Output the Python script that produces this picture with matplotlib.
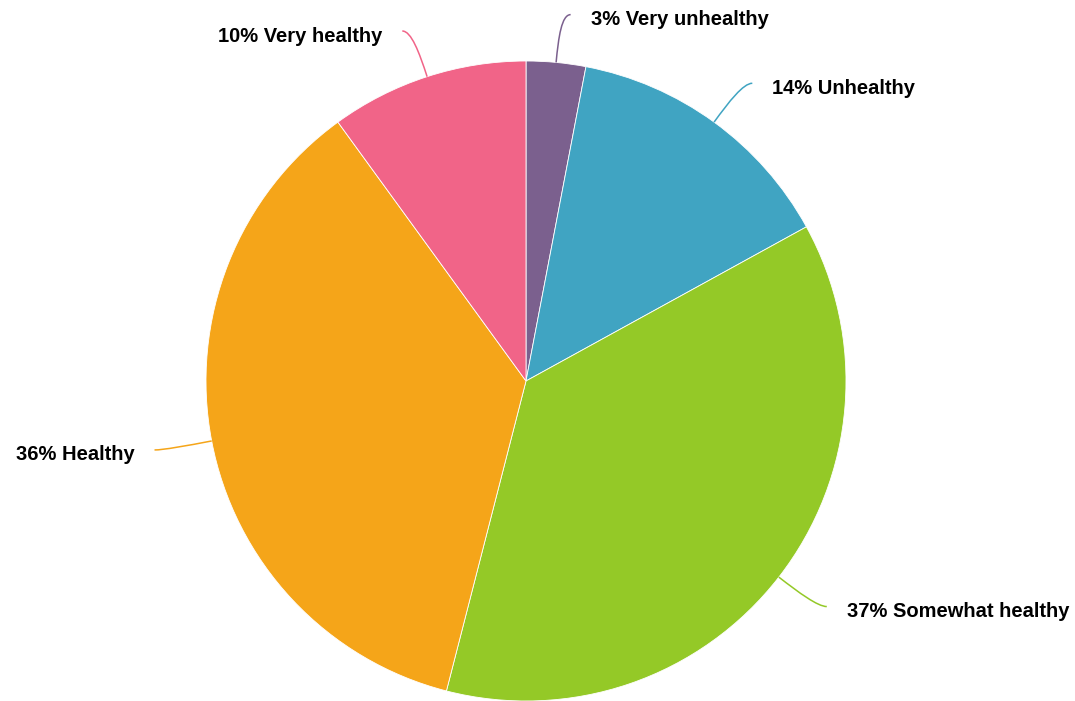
import numpy as np
import matplotlib.pyplot as plt
from matplotlib.path import Path
from matplotlib.patches import PathPatch

# slice data, clockwise from 12 o'clock
categories = ["Very unhealthy", "Unhealthy", "Somewhat healthy", "Healthy", "Very healthy"]
values = [3, 14, 37, 36, 10]
colors = ["#7B608E", "#40A4C2", "#94C927", "#F5A519", "#F16488"]

W, H = 1075, 701
cx, cy, R = 526, 381, 320  # pie centre and radius in pixels

plt.rcParams["font.family"] = ["Liberation Sans", "DejaVu Sans"]

fig = plt.figure(figsize=(W / 100, H / 100), dpi=100)
ax = fig.add_axes([0, 0, 1, 1])

ax.pie(values, colors=colors, startangle=90, counterclock=False,
       radius=1, center=(0, 0), frame=True,
       wedgeprops=dict(edgecolor="white", linewidth=0.6))
ax.set_xlim(-cx / R, (W - cx) / R)
ax.set_ylim(-(H - cy) / R, cy / R)
ax.set_aspect("equal")
ax.axis("off")

px = 1.0 / R
total = sum(values)
cum = 0
for name, v, col in zip(categories, values, colors):
    mid = 2 * np.pi * (cum + v / 2) / total  # clockwise from top
    cum += v
    d = np.array([np.sin(mid), np.cos(mid)])
    side = 1 if d[0] >= 0 else -1
    p0 = d * 1.0
    p1 = d * 1.08
    end = d * 1.15 + np.array([side * 10 * px, 0])
    p2 = end - np.array([side * 9 * px, 0])
    path = Path([p0, p1, p2, end], [Path.MOVETO, Path.CURVE4, Path.CURVE4, Path.CURVE4])
    ax.add_patch(PathPatch(path, facecolor="none", edgecolor=col, lw=1.1))

    ax.text(end[0] + side * 20 * px, end[1] - 5 * px, f"{v}% {name}",
            ha="left" if side > 0 else "right", va="center",
            fontsize=14.5, fontweight="bold", color="black")

fig.savefig("out.png", dpi=100)
